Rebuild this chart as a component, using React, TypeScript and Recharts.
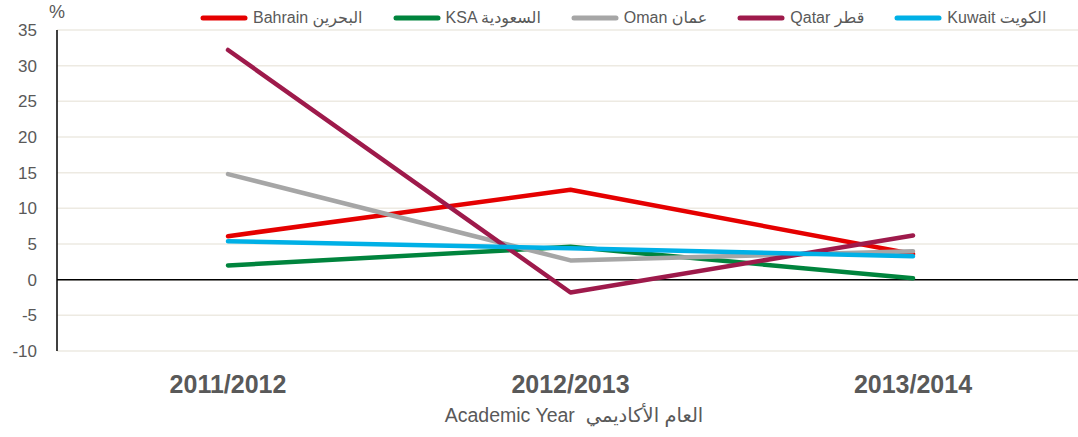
import React from 'react';
import { LineChart, Line, XAxis, YAxis, CartesianGrid, ReferenceLine } from 'recharts';

const categories = ['2011/2012', '2012/2013', '2013/2014'];
const bahrain = [6.1, 12.6, 3.6];
const ksa = [2.0, 4.6, 0.2];
const oman = [14.8, 2.7, 4.0];
const qatar = [32.2, -1.8, 6.2];
const kuwait = [5.4, 4.4, 3.3];
const yTicks = [-10, -5, 0, 5, 10, 15, 20, 25, 30, 35];

const seriesNames = ['Bahrain البحرين', 'KSA السعودية', 'Oman عمان', 'Qatar قطر', 'Kuwait الكويت'];
const seriesKeys = ['bahrain', 'ksa', 'oman', 'qatar', 'kuwait'];
const seriesColors = ['#E50000', '#00843D', '#A6A6A6', '#9E1A4B', '#00B0E6'];
const seriesValues = [bahrain, ksa, oman, qatar, kuwait];

const data = categories.map((c, i) => {
  const row: Record<string, string | number> = { year: c };
  seriesKeys.forEach((k, j) => {
    row[k] = seriesValues[j][i];
  });
  return row;
});

const FONT = '"Liberation Sans", "DejaVu Sans", sans-serif';
const TEXT = '#595959';

export default function App() {
  return (
    <div style={{ position: 'absolute', left: 0, top: 0, width: 1078, height: 437, fontFamily: FONT, background: '#fff' }}>
      <LineChart width={1078} height={437} data={data} margin={{ top: 30, right: 0, left: 0, bottom: 26 }}>
        <CartesianGrid horizontal vertical={false} stroke="#EDEAE2" strokeWidth={1.5} />
        <XAxis
          dataKey="year"
          scale="point"
          padding={{ left: 171, right: 165 }}
          axisLine={false}
          tickLine={false}
          tickSize={0}
          tickMargin={24}
          height={60}
          tick={{ fill: TEXT, fontSize: 25, fontWeight: 'bold', fontFamily: FONT }}
        />
        <YAxis
          domain={[-10, 35]}
          ticks={yTicks}
          interval={0}
          width={57}
          axisLine={{ stroke: '#000', strokeWidth: 1.5 }}
          tickLine={false}
          tickSize={0}
          tickMargin={20}
          tick={{ fill: TEXT, fontSize: 17, fontFamily: FONT }}
        />
        <ReferenceLine y={0} stroke="#000" strokeWidth={1.5} />
        {seriesKeys.map((k, i) => (
          <Line
            key={k}
            dataKey={k}
            name={seriesNames[i]}
            stroke={seriesColors[i]}
            strokeWidth={4.5}
            strokeLinecap="round"
            strokeLinejoin="round"
            dot={false}
            activeDot={false}
            isAnimationActive={false}
          />
        ))}
      </LineChart>
      <div style={{ position: 'absolute', left: 49, top: 2, fontSize: 18, color: TEXT }}>%</div>
      <div style={{ position: 'absolute', left: 200, top: 8, display: 'flex', alignItems: 'center', gap: 30 }}>
        {seriesNames.map((n, i) => (
          <div key={n} style={{ display: 'flex', alignItems: 'center', whiteSpace: 'nowrap' }}>
            <svg width={48} height={8} style={{ marginRight: 5 }}>
              <line x1={3} y1={4} x2={45} y2={4} stroke={seriesColors[i]} strokeWidth={5} strokeLinecap="round" />
            </svg>
            <span style={{ fontSize: 16, color: TEXT, direction: 'ltr' }}>{n}</span>
          </div>
        ))}
      </div>
      <div style={{ position: 'absolute', left: 0, width: 1148, top: 404, textAlign: 'center', fontSize: 19.5, color: TEXT, whiteSpace: 'nowrap', direction: 'ltr' }}>
        Academic Year&nbsp;&nbsp;العام الأكاديمي
      </div>
    </div>
  );
}
